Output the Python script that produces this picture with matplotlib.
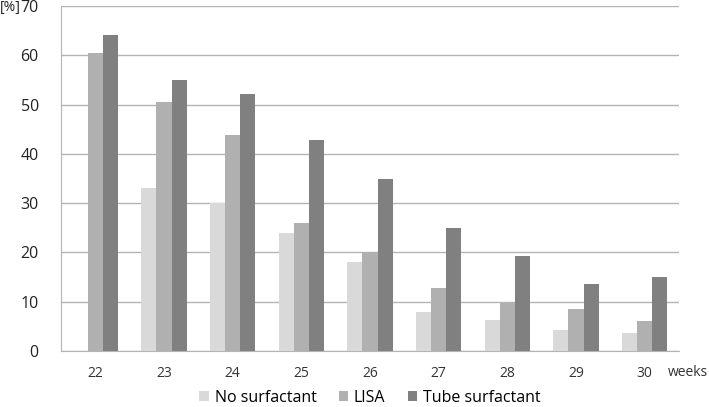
import numpy as np
import matplotlib.pyplot as plt

weeks = ['22', '23', '24', '25', '26', '27', '28', '29', '30']
no_surf = [0, 33, 30, 24, 18, 8, 6.2, 4.3, 3.6]
lisa = [60.5, 50.5, 43.8, 26, 20, 12.8, 9.8, 8.5, 6]
tube = [64.2, 55, 52.2, 42.8, 35, 25, 19.2, 13.6, 15]

plt.rcParams['font.family'] = ['Open Sans', 'DejaVu Sans']

fig = plt.figure(figsize=(7.09, 4.07), dpi=100)
ax = fig.add_axes([61 / 709, 1 - 351 / 407, 618 / 709, 345 / 407])

x = np.arange(len(weeks))
w = 0.22
ax.bar(x - w, no_surf, w, color='#d9d9d9', label='No surfactant', zorder=3)
ax.bar(x, lisa, w, color='#b0b0b0', label='LISA', zorder=3)
ax.bar(x + w, tube, w, color='#808080', label='Tube surfactant', zorder=3)

ax.set_xlim(-0.5, len(weeks) - 0.5)
ax.set_ylim(0, 70)
ax.set_yticks(range(0, 71, 10))
ax.set_xticks(x)
ax.set_xticklabels(weeks, fontsize=10, color='#333333')
ax.tick_params(axis='y', labelsize=11.5, colors='#222222', length=0, pad=16)
ax.tick_params(axis='x', length=0, pad=11)
ax.grid(axis='y', color='#b4b4b4', linewidth=1, zorder=0)
for s in ['top', 'right']:
    ax.spines[s].set_visible(False)
ax.spines['left'].set_color('#b4b4b4')
ax.spines['bottom'].set_color('#b4b4b4')

fig.text(0, 1 - 7 / 407, '[%]', fontsize=10, va='center', ha='left', color='#222222')
fig.text(668 / 709, 1 - 373 / 407, 'weeks', fontsize=10, va='center', ha='left', color='#333333')

ax.legend(loc='center', bbox_to_anchor=(0.5, -0.135), ncol=3, frameon=False,
          fontsize=11.5, handlelength=0.6, handleheight=0.6, columnspacing=1.4,
          handletextpad=0.35)

fig.savefig('out.png', dpi=100)
